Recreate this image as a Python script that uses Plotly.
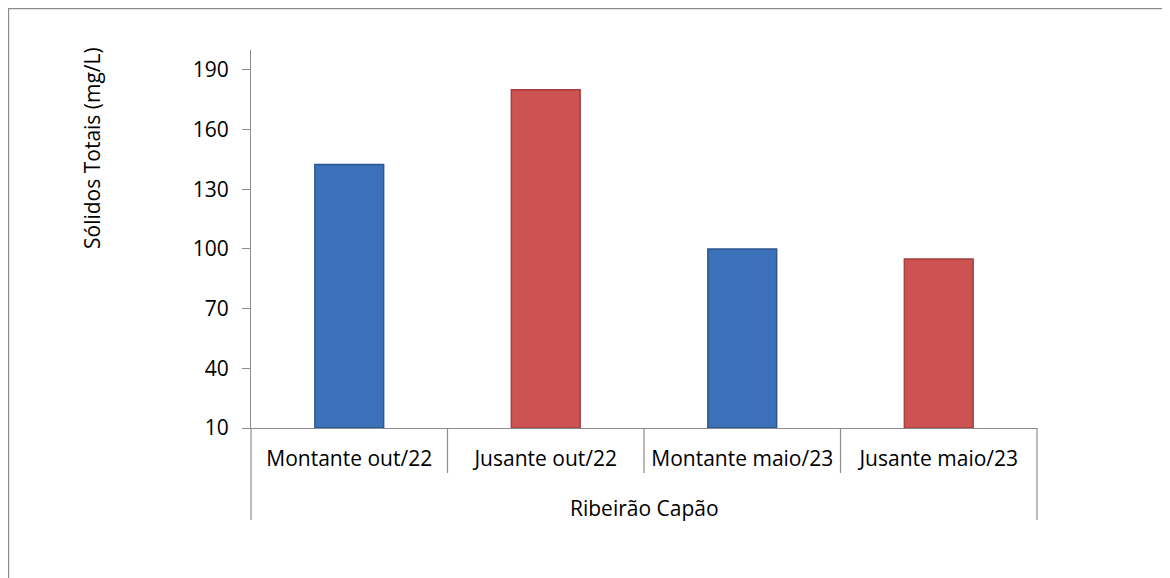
import plotly.graph_objects as go

categories = ["Montante out/22", "Jusante out/22", "Montante maio/23", "Jusante maio/23"]
group_label = "Ribeirão Capão"
values = [142.5, 180, 100, 95]
bar_colors = ["#3A71B8", "#CC5352", "#3A71B8", "#CC5352"]
edge_colors = ["#2B5790", "#A33F3E", "#2B5790", "#A33F3E"]
y_ticks = [10, 40, 70, 100, 130, 160, 190]
y_title = "Sólidos Totais (mg/L)"

FONT = "Open Sans"
FS = 21
AX = "#8C8C8C"

# the page body adds an 8px offset; compensate so the plot lands where the reference has it
OFF = 8
W, H = 1170, 578
PLOT_L, PLOT_R, PLOT_T, PLOT_B = 251, 1037, 50, 428   # window pixels
L = PLOT_L - OFF
T = PLOT_T - OFF
R = W - (PLOT_R - OFF)
B = H - (PLOT_B - OFF)
pw = W - L - R
ph = H - T - B

def fy(win_y):
    return (PLOT_B - win_y) / ph

def fx(win_x):
    return (win_x - PLOT_L) / pw

fig = go.Figure()
fig.add_trace(go.Bar(
    x=categories, y=[v - 10 for v in values], base=10,
    width=0.35,
    marker=dict(color=bar_colors, line=dict(color=edge_colors, width=1.5)),
    showlegend=False,
))

shapes = []
for f in [0, 0.25, 0.5, 0.75, 1.0]:
    long = f in (0, 1.0)
    shapes.append(dict(type="line", xref="x domain", yref="paper",
                       x0=f, x1=f, y0=0, y1=fy(520 if long else 473),
                       line=dict(color=AX, width=1.2)))
shapes.append(dict(type="rect", xref="paper", yref="paper",
                   x0=fx(8.6), x1=fx(1200), y0=fy(620), y1=fy(8.6),
                   line=dict(color="#8C8C8C", width=1.2), fillcolor="rgba(0,0,0,0)",
                   layer="below"))

fig.update_layout(
    width=W, height=H,
    margin=dict(l=L, r=R, t=T, b=B),
    paper_bgcolor="white", plot_bgcolor="white",
    font=dict(family=FONT, size=FS, color="#000000"),
    shapes=shapes,
    annotations=[
        dict(text=y_title, xref="paper", yref="paper",
             x=fx(92), y=fy(148), textangle=-90,
             showarrow=False, xanchor="center", yanchor="middle",
             font=dict(family=FONT, size=FS)),
        dict(text=group_label, xref="paper", yref="paper",
             x=0.5, y=fy(508), showarrow=False,
             xanchor="center", yanchor="middle",
             font=dict(family=FONT, size=FS)),
    ],
)
fig.update_xaxes(
    type="category", showline=True, linecolor=AX, linewidth=1.2,
    ticks="", showgrid=False, ticklabelstandoff=12,
    tickfont=dict(family=FONT, size=FS),
)
fig.update_yaxes(
    range=[10, 200], tickvals=y_ticks, ticktext=[str(v) for v in y_ticks],
    showline=True, linecolor=AX, linewidth=1.2,
    ticks="outside", ticklen=8, tickcolor=AX, tickwidth=1.2,
    ticklabelstandoff=9,
    showgrid=False, zeroline=False,
    tickfont=dict(family=FONT, size=FS),
)

fig.write_html("out.html")
